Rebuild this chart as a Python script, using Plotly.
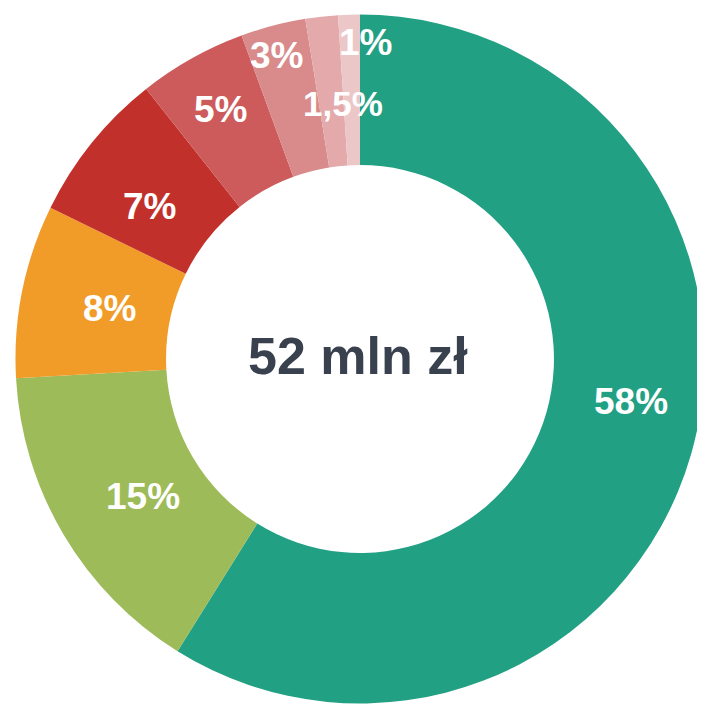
import math
import plotly.graph_objects as go

# data
labels = ["58%", "15%", "8%", "7%", "5%", "3%", "1,5%", "1%"]
values = [58, 15, 8, 7, 5, 3, 1.5, 1]
center_label = "52 mln zł"

# styles
colors = ["#22a084", "#9dbb59", "#f19c29", "#c2302b", "#cd5b5b", "#d98b8b", "#e3a9ab", "#ecc7c8"]
label_r = [0.795, 0.745, 0.742, 0.754, 0.829, 0.913, 0.742, 0.92]   # fraction of outer radius
label_dang = [-7, -1.7, 0, -3, 0, -0.8, 2.6, 2.9]                   # degrees offset from slice middle
label_size = [37, 37, 37, 37, 37, 37, 35, 37]

PAGE_OFF = 8  # browser default body margin
W, H = 705 - PAGE_OFF, 709 - PAGE_OFF
cx_px, cy_px, R_px = 360 - PAGE_OFF, 359 - PAGE_OFF, 344.5
hole = 0.563

dom_x = [max(0.0, (cx_px - R_px) / W), min(1.0, (cx_px + R_px) / W)]
dom_y = [max(0.0, (H - cy_px - R_px) / H), min(1.0, (H - cy_px + R_px) / H)]

fig = go.Figure(go.Pie(
    labels=labels, values=values, sort=False, direction="clockwise", rotation=0,
    hole=hole, marker=dict(colors=colors, line=dict(width=0)),
    textinfo="none", hoverinfo="label", showlegend=False,
    domain=dict(x=dom_x, y=dom_y),
))

total = sum(values)
cum = 0.0
for lab, v, rf, da, fs in zip(labels, values, label_r, label_dang, label_size):
    mid = (cum + v / 2) / total * 360 + da
    cum += v
    r = rf * R_px
    px = cx_px + r * math.sin(math.radians(mid))
    py = cy_px - r * math.cos(math.radians(mid))
    fig.add_annotation(x=px / W, y=1 - py / H, xref="paper", yref="paper",
                       text="<b>" + lab + "</b>", showarrow=False, xanchor="center", yanchor="middle",
                       font=dict(family="Liberation Sans, Arial, sans-serif", size=fs, color="white"))

fig.add_annotation(x=(358 - PAGE_OFF) / W, y=1 - (356 - PAGE_OFF) / H, xref="paper", yref="paper",
                   text="<b>" + center_label + "</b>",
                   showarrow=False, xanchor="center", yanchor="middle",
                   font=dict(family="Liberation Sans, Arial, sans-serif", size=52, color="#39414f"))

fig.update_layout(width=W, height=H, margin=dict(l=0, r=0, t=0, b=0),
                  paper_bgcolor="white", plot_bgcolor="white")
fig.write_html("out.html")
